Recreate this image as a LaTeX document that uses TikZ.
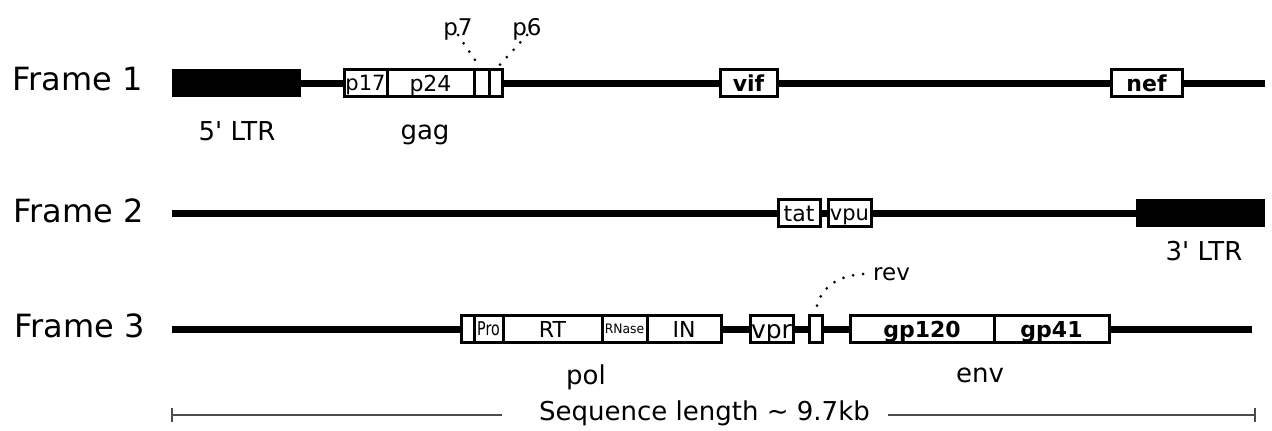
\documentclass[tikz,border=0pt]{standalone}
\usepackage{fontspec}
\setmainfont{DejaVu Sans}
\usepackage{graphicx}
\newcommand\fs[1]{\fontsize{#1}{#1}\selectfont}
% gene segment: [extra style]{name}{x start}{x end}{y}{label}
\newcommand\gseg[6][]{\node[gene,#1,minimum width={#4-#3}] (#2) at ({(#3+#4)/2},#5) {#6};}
\tikzset{
  backbone/.style={line width=7pt},
  gene/.style={draw, fill=white, line width=3pt, minimum height=27pt, inner sep=0pt,
    outer sep=0pt, font=\fs{22}, text height=16pt, text depth=0pt},
  genebold/.style={font=\fs{22}\bfseries, text height=16pt},
  genebig/.style={font=\fs{25}, text height=18.2pt},
  ltr/.style={fill=black, minimum height=28pt, inner sep=0pt, outer sep=0pt},
  framelabel/.style={anchor=base west, inner sep=0pt, font=\fs{32}},
  caption/.style={anchor=base, inner sep=0pt, font=\fs{26}},
  tag/.style={anchor=base, inner sep=0pt, font=\fs{23}},
  dotlink/.style={line width=3pt, line cap=round, dash pattern=on 0pt off 10pt},
  seqline/.style={line width=1.6pt, draw=black!70},
}
\begin{document}
\begin{tikzpicture}[x=1pt,y=-1pt]
\fill[white] (0,0) rectangle (1272,431);
\useasboundingbox (0,0) rectangle (1272,431);

% ---------- Frame 1 ----------
\node[framelabel] (fr1) at (12,90) {Frame 1};
\coordinate (f1s) at (172,83);
\coordinate (f1e) at (1265,83);
\draw[backbone] (f1s) -- (f1e);
\node[ltr, minimum width=129] (ltr5) at (236.5,83) {};
\gseg[font=\fs{21}, text height=15.3pt]{p17}{344}{387}{83}{p17}
\gseg{p24}{387}{474}{83}{p24}
\gseg{p7box}{474}{489}{83}{}
\gseg{p6box}{489}{502}{83}{}
\gseg[genebold]{vif}{720}{777}{83}{vif}
\gseg[genebold]{nef}{1111}{1182}{83}{nef}
\node[caption] (ltr5lbl) at (237,140) {5\textquotesingle{} LTR};
\node[caption] (gaglbl) at (425,139) {gag};
\node[tag] (p7lbl) at (458,35) {p7};
\node[tag] (p6lbl) at (527,35) {p6};
\draw[dotlink, shorten >=4pt] (p7lbl.base) -- (p7box.north);
\draw[dotlink, shorten >=6pt] (p6lbl.base) -- (p6box.north);

% ---------- Frame 2 ----------
\node[framelabel] (fr2) at (13,222) {Frame 2};
\coordinate (f2s) at (172,213);
\coordinate (f2e) at (1265,213);
\draw[backbone] (f2s) -- (f2e);
\gseg{tat}{778}{820}{213}{tat}
\gseg[font=\fs{21}, text height=15.3pt]{vpu}{828}{871}{213}{vpu}
\node[ltr, minimum width=129] (ltr3) at (1200.5,213) {};
\node[caption] (ltr3lbl) at (1204,260) {3\textquotesingle{} LTR};

% ---------- Frame 3 ----------
\node[framelabel] (fr3) at (14,337) {Frame 3};
\coordinate (f3s) at (172,329);
\coordinate (f3e) at (1252,329);
\draw[backbone] (f3s) -- (f3e);
\gseg{pol0}{461}{474}{329}{}
\gseg[font=\fs{19}, text height=13.9pt]{pro}{474}{503}{329}{\scalebox{0.75}[1]{Pro}}
\gseg{rt}{503}{602}{329}{RT}
\gseg[font=\fs{13}, text height=9.5pt]{rnase}{602}{647}{329}{\scalebox{0.95}[1]{RNase}}
\gseg{in}{647}{721}{329}{IN}
\gseg[genebig]{vpr}{750}{793}{329}{vpr}
\gseg{revbox}{809}{822}{329}{}
\gseg[genebold]{gp120}{850}{994}{329}{gp120}
\gseg[genebold]{gp41}{994}{1109}{329}{gp41}
\node[caption] (pollbl) at (586,384) {pol};
\node[caption] (envlbl) at (980,382) {env};
\node[tag, anchor=base west] (revlbl) at (873,280) {rev};
\draw[dotlink, shorten >=4pt] (revbox.north) .. controls (817,288) and (838,274) .. (revlbl.west);

% ---------- sequence length scale ----------
\coordinate (seqL) at (172,415);
\coordinate (seqR) at (1255,415);
\node[inner sep=0pt, font=\fs{26}] (seqtxt) at (704.5,413) {Sequence length \textasciitilde{} 9.7kb};
\draw[seqline] (seqL) -- ([xshift=-37pt]seqtxt.west |- seqL);
\draw[seqline] ([xshift=18pt]seqtxt.east |- seqR) -- (seqR);
\draw[seqline] ([yshift=-7pt]seqL) -- ([yshift=7pt]seqL);
\draw[seqline] ([yshift=-7pt]seqR) -- ([yshift=7pt]seqR);
\end{tikzpicture}
\end{document}
